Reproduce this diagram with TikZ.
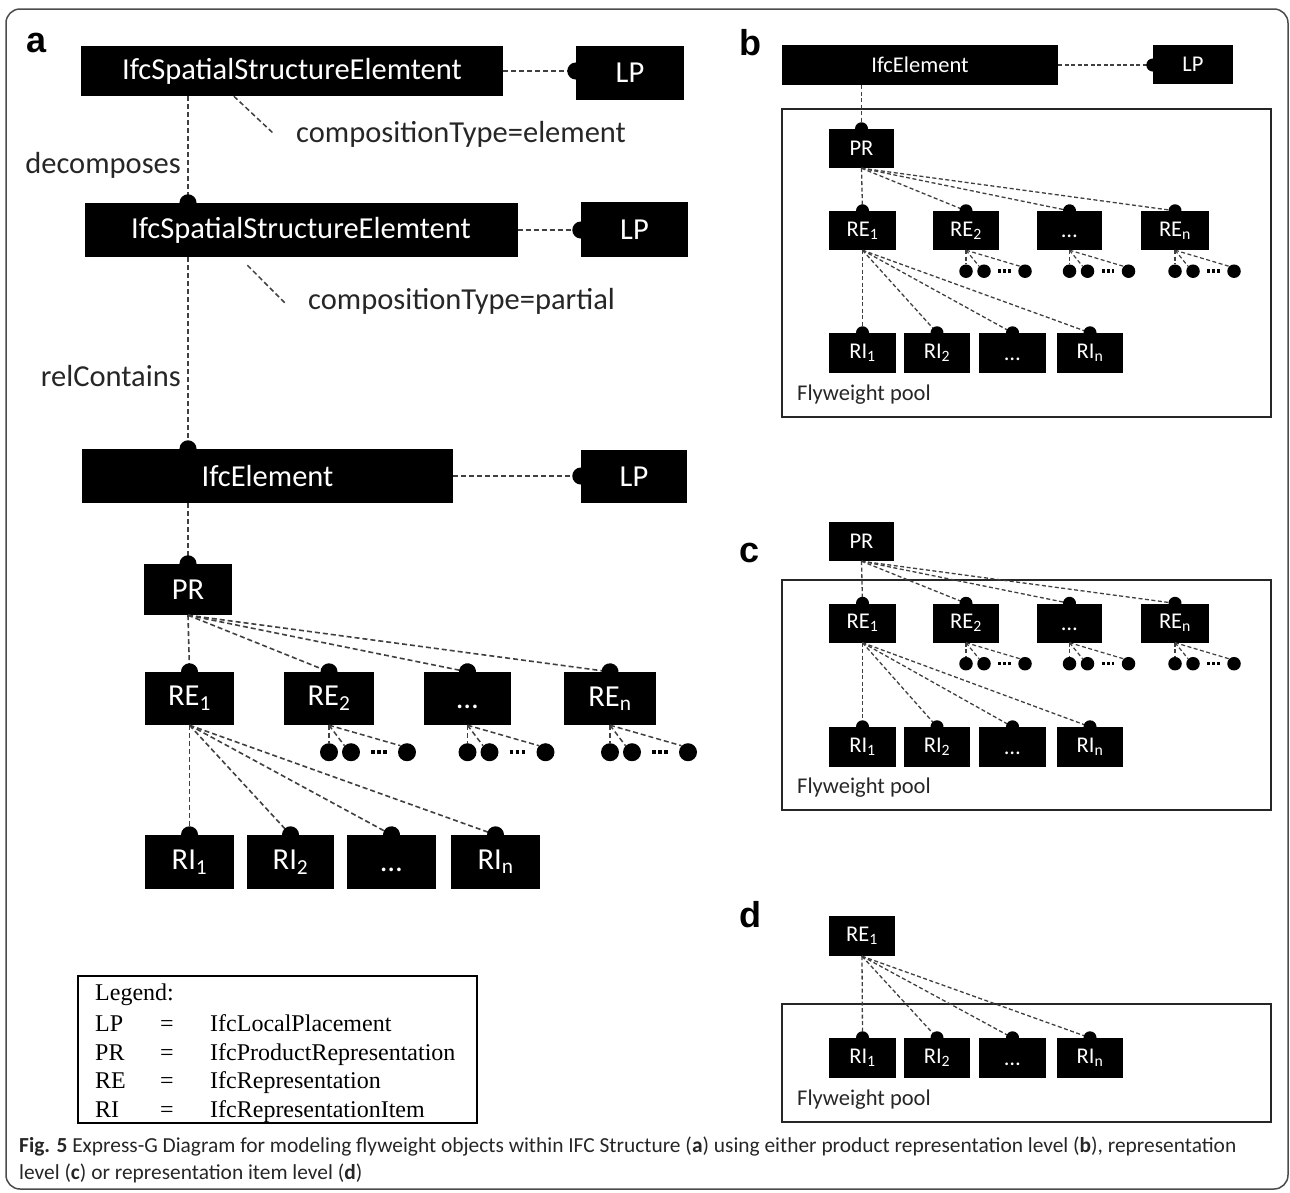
\documentclass[tikz,border=0pt]{standalone}
\usepackage{fontspec}
\setmainfont{Carlito}
\newfontfamily\legendfont{Liberation Serif}
\newfontfamily\letterfont{Liberation Sans}
\usetikzlibrary{arrows.meta}

\begin{document}
\begin{tikzpicture}[x=1pt,y=-1pt,
    ent/.style={fill=black, text=white, inner sep=0pt, font=\fontsize{30.5}{33}\selectfont},
    ents/.style={ent, font=\fontsize{22.5}{24}\selectfont},
    rel/.style={draw=black!75, line width=1.6pt, dash pattern=on 5pt off 3pt, -{Circle[length=17pt, color=black]}, shorten >=-8.5pt},
    rels/.style={rel, line width=1.3pt, dash pattern=on 4pt off 2.5pt, -{Circle[length=13pt, color=black]}, shorten >=-6.5pt},
    lead/.style={draw=black!75, line width=1.5pt, dash pattern=on 5pt off 3pt},
    leads/.style={lead, line width=1.2pt, dash pattern=on 4pt off 2.5pt},
    ballA/.style={circle, fill=black, inner sep=0pt, minimum size=18pt},
    ballB/.style={ballA, minimum size=13.5pt},
    ellipA/.style={draw=black, line width=4.5pt, dash pattern=on 3.5pt off 2.5pt, shorten <=11pt, shorten >=11pt},
    ellipB/.style={draw=black, line width=3.5pt, dash pattern=on 3pt off 2pt, shorten <=7.5pt, shorten >=7.5pt},
    lbl/.style={inner sep=0pt, text=black!85, font=\fontsize{30.5}{33}\selectfont},
    plbl/.style={inner sep=0pt, anchor=west, text=black!85, font=\fontsize{22.5}{24}\selectfont},
    pool/.style={draw=black!85, line width=1.6pt},
    letter/.style={inner sep=0pt, anchor=base, font=\letterfont\bfseries\fontsize{36}{36}\selectfont},
    leg/.style={inner sep=0pt, anchor=base west, font=\legendfont\fontsize{24}{26}\selectfont},
    captxt/.style={inner sep=0pt, anchor=base west, text=black!85, font=\fontsize{21.4}{24}\selectfont}]

    \useasboundingbox (0,0) rectangle (1290,1192);
    \draw[line width=1.5pt, black!70, rounded corners=14pt] (6,9) rectangle (1288,1189);

    % panel a
    \node[letter] (la) at (37,52) {a};
    \node[ent, minimum width=422, minimum height=50] (sse1) at (292,71) {IfcSpatialStructureElemtent};
    \node[ent, minimum width=108, minimum height=54] (lp1) at (630,73) {LP};
    \node[ent, minimum width=433, minimum height=54] (sse2) at (301,230) {IfcSpatialStructureElemtent};
    \node[ent, minimum width=107, minimum height=55] (lp2) at (634.5,229.5) {LP};
    \node[ent, minimum width=371, minimum height=54] (ifea) at (267.5,476) {IfcElement};
    \node[ent, minimum width=106, minimum height=53] (lp3) at (634,476.5) {LP};
    \node[ent, minimum width=88, minimum height=51] (pra) at (188,589.5) {PR};

    \draw[rel] (sse1.east) -- (sse1.east -| lp1.west);
    \draw[rel] (sse2.east) -- (sse2.east -| lp2.west);
    \draw[rel] (ifea.east) -- (ifea.east -| lp3.west);
    \draw[rel] (sse1.south -| pra.north) -- (sse2.north -| pra.north);
    \draw[rel] (sse2.south -| pra.north) -- (ifea.north -| pra.north);
    \draw[rel] (ifea.south -| pra.north) -- (pra.north);

    \node[lbl, anchor=west] (ct1) at (296,134) {compositionType=element};
    \node[lbl, anchor=west] (ct2) at (308,301) {compositionType=partial};
    \node[lbl, anchor=east] (dec) at (181,165) {decomposes};
    \node[lbl, anchor=east] (rc) at (181,376) {relContains};
    \draw[lead] ([xshift=153pt]sse1.south west) -- ([xshift=-22pt]ct1.west);
    \draw[lead] ([xshift=163pt,yshift=-8pt]sse2.south west) -- ([xshift=-22pt,yshift=-3pt]ct2.west);

    \foreach \n/\x/\w/\t in {1/189.5/89/{RE\textsubscript{1}}, 2/329/90/{RE\textsubscript{2}}, 3/467.5/87/{\vphantom{RE}\ldots}, 4/610/92/{RE\textsubscript{n}}}{
        \node[ent, minimum width=\w, minimum height=53] (rea\n) at (\x,698.5) {\t};
        \draw[rel] (pra.south) -- (rea\n.north);
    }
    \foreach \n in {2,3,4}{
        \node[ballA] (rea\n d1) at ([yshift=-27pt]rea\n.south) {};
        \node[ballA] (rea\n d2) at ([xshift=22pt,yshift=-27pt]rea\n.south) {};
        \node[ballA] (rea\n d3) at ([xshift=78pt,yshift=-27pt]rea\n.south) {};
        \draw[lead] (rea\n.south) -- (rea\n d1.north);
        \draw[lead] (rea\n.south) -- (rea\n d2.north west);
        \draw[lead] (rea\n.south) -- (rea\n d3.north west);
        \draw[ellipA] (rea\n d2.east) -- (rea\n d3.west);
    }
    \foreach \n/\x/\w/\t in {1/189.5/89/{RI\textsubscript{1}}, 2/290.5/87/{RI\textsubscript{2}}, 3/391.5/89/{\vphantom{RI}\ldots}, 4/495.5/89/{RI\textsubscript{n}}}{
        \node[ent, minimum width=\w, minimum height=54] (ria\n) at (\x,862) {\t};
        \draw[rel] (rea1.south) -- (ria\n.north);
    }

    % legend
    \draw[line width=2pt] (78,976) rectangle (477,1123);
    \node[leg] (lg0) at (95,1000) {Legend:};
    \foreach \k/\v [count=\i] in {LP/IfcLocalPlacement, PR/IfcProductRepresentation, RE/IfcRepresentation, RI/IfcRepresentationItem}{
        \node[leg] (lgk\i) at (95,{1003+28.5*\i}) {\k};
        \node[leg] (lge\i) at (160,{1003+28.5*\i}) {=};
        \node[leg] (lgv\i) at (210,{1003+28.5*\i}) {\v};
    }

    % panel b
    \node[letter] (lb) at (750,55) {b};
    \node[ents, minimum width=276, minimum height=40] (ifeb) at (920,65) {IfcElement};
    \node[ents, minimum width=80, minimum height=39] (lpb) at (1193,64.5) {LP};
    \draw[rels] (ifeb.east) -- (ifeb.east -| lpb.west);
    \draw[pool] (782,109) rectangle (1271,417);
    \node[ents, minimum width=65, minimum height=39] (prb) at (861.5,148.5) {PR};
    \draw[rels] (ifeb.south -| prb.north) -- (prb.north);
    \node[plbl] (fpb) at (797,395) {Flyweight pool};

    % panel c
    \node[letter] (lc) at (750,562) {c};
    \draw[pool] (782,580) rectangle (1271,810);
    \node[ents, minimum width=65, minimum height=39] (prc) at (861.5,541.5) {PR};
    \node[plbl] (fpc) at (797,788) {Flyweight pool};

    % panel d
    \node[letter] (ld) at (750,927) {d};
    \draw[pool] (782,1004) rectangle (1271,1122);
    \node[ents, minimum width=66, minimum height=40] (red1) at (862,936) {RE\textsubscript{1}};
    \node[plbl] (fpd) at (797,1100) {Flyweight pool};

    % representations in b and c
    \foreach \p/\ry in {b/230.5, c/623}{
        \foreach \n/\x/\w/\t in {1/862.5/67/{RE\textsubscript{1}}, 2/966/66/{RE\textsubscript{2}}, 3/1069.5/65/{\vphantom{RE}\ldots}, 4/1175/68/{RE\textsubscript{n}}}{
            \node[ents, minimum width=\w, minimum height=39] (re\p\n) at (\x,\ry) {\t};
            \draw[rels] (pr\p.south) -- (re\p\n.north);
        }
        \foreach \n in {2,3,4}{
            \node[ballB] (re\p\n d1) at ([yshift=-21pt]re\p\n.south) {};
            \node[ballB] (re\p\n d2) at ([xshift=18pt,yshift=-21pt]re\p\n.south) {};
            \node[ballB] (re\p\n d3) at ([xshift=59pt,yshift=-21pt]re\p\n.south) {};
            \draw[leads] (re\p\n.south) -- (re\p\n d1.north);
            \draw[leads] (re\p\n.south) -- (re\p\n d2.north west);
            \draw[leads] (re\p\n.south) -- (re\p\n d3.north west);
            \draw[ellipB] (re\p\n d2.east) -- (re\p\n d3.west);
        }
    }
    % representation items in b, c and d
    \foreach \p/\iy in {b/353, c/747, d/1058}{
        \foreach \n/\x/\w/\t in {1/862.5/67/{RI\textsubscript{1}}, 2/937/66/{RI\textsubscript{2}}, 3/1012.5/67/{\vphantom{RI}\ldots}, 4/1090/66/{RI\textsubscript{n}}}{
            \node[ents, minimum width=\w, minimum height=40] (ri\p\n) at (\x,\iy) {\t};
            \draw[rels] (re\p1.south) -- (ri\p\n.north);
        }
    }

    % caption
    \node[captxt] (cap1) at (19,1152) {\textbf{Fig. 5} Express-G Diagram for modeling flyweight objects within IFC Structure (\textbf{a}) using either product representation level (\textbf{b}), representation};
    \node[captxt] (cap2) at (19,1179) {level (\textbf{c}) or representation item level (\textbf{d})};
\end{tikzpicture}
\end{document}
